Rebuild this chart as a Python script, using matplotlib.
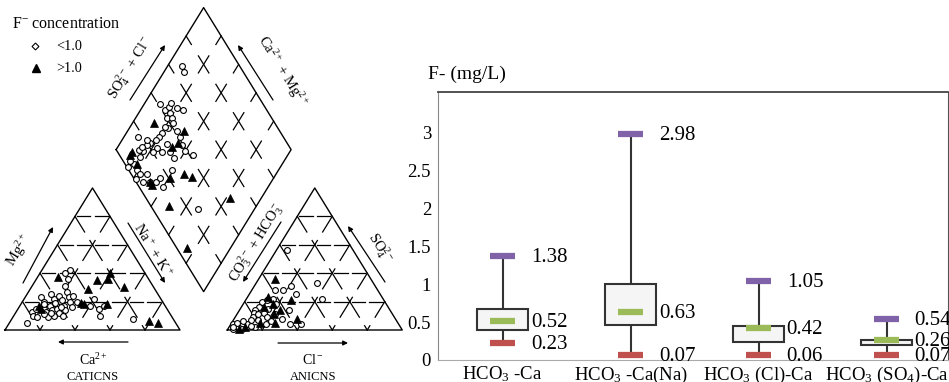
import numpy as np
import matplotlib.pyplot as plt
import matplotlib.transforms as mtransforms

plt.rcParams['font.family'] = 'Liberation Serif'
plt.rcParams['mathtext.fontset'] = 'custom'
plt.rcParams['mathtext.rm'] = 'Liberation Serif'
plt.rcParams['mathtext.it'] = 'Liberation Serif:italic'

# ---- box plot data (F- mg/L) ----
groups = ['HCO$_3$ -Ca', 'HCO$_3$ -Ca(Na)', 'HCO$_3$ (Cl)-Ca', 'HCO$_3$ (SO$_4$)-Ca']
f_max = [1.38, 2.98, 1.05, 0.54]
f_mean = [0.52, 0.63, 0.42, 0.26]
f_min = [0.23, 0.07, 0.06, 0.07]
q1 = [0.40, 0.46, 0.24, 0.20]
q3 = [0.67, 1.01, 0.45, 0.27]
yticks = [0, 0.5, 1, 1.5, 2, 2.5, 3]
ytick_labels = ['0', '0.5', '1', '1.5', '2', '2.5', '3']

# ---- piper data, percent ----
# cation triangle (Mg, Na+K)
cat_low = [(5,10),(13,9),(15,10),(10,11),(9,14),(23,9),(20,12),(15,15),(13,17),(17,17),
           (14,20),(22,17),(19,19),(15,22),(12,25),(24,19),(21,22),(17,25),(14,27),(27,22),
           (23,25),(20,27),(16,30),(24,27),(31,19),(36,18),(42,16),(40,14),(10,28),(10,23),
           (9,20),(20,31),(17,40),(22,40),(15,46),(10,49),(8,69),(17,48),(18,13),(11,17),
           (25,14),(16,24),(12,20)]
cat_high = [(37,12),(29,33),(35,35),(36,41),(40,40),(30,53),(19,34),(18,36),(18,49),
            (15,13),(17,11),(6,79),(5,85)]
# anion triangle (SO4, Cl)
an_low = [(28,13),(28,18),(31,21),(25,27),(22,15),(21,12),(20,10),(16,10),(14,9),(12,9),
          (9,10),(7,10),(11,12),(12,15),(15,16),(18,19),(11,22),(8,27),(14,28),(4,40),
          (4,34),(4,20),(2,15),(4,9),(2,5),(1,3),(4,1),(5,3),(1,8),(22,43),(33,35),(56,6),
          (3,12),(6,6),(2,2),(7,14),(9,18),(6,22)]
an_high = [(36,9),(23,12),(21,26),(16,13),(18,17),(11,21),(14,23),(8,36),(5,16),(5,25),
           (1,6),(2,9)]
# diamond (Na+K, SO4+Cl)
dia_low = [(8,67),(11,66),(24,52),(9,41),(14,42),(15,45),(15,48),(20,49),(18,44),(18,40),
           (21,43),(23,42),(22,37),(20,36),(20,32),(20,29),(19,26),(17,22),(16,19),(16,15),
           (16,11),(13,13),(23,24),(27,25),(22,20),(14,21),(14,16),(28,41),(32,41),(36,39),
           (40,39),(46,42),(32,30),(36,30),(39,25),(40,14),(26,9),(19,5),(15,5),(12,4),
           (13,1),(22,1),(27,4),(31,8),(34,11),(35,15),(22,5),(8,17),(27,31),(68,26)]
dia_high = [(12,31),(32,45),(33,38),(31,33),(10,8),(10,6),(47,30),(53,34),(41,21),(31,8),
            (33,8),(17,7),(50,10),(82,48),(75,6)]

h = np.sqrt(3) / 2
g = 0.27


def cat_xy(mg, nak):
    m, n = mg / 100, nak / 100
    return n + m / 2, m * h


def an_xy(so4, cl):
    s, c = so4 / 100, cl / 100
    return 1 + g + c + s / 2, s * h


def dia_xy(nak, sc):
    n, s = nak / 100, sc / 100
    return 1 + g / 2 + 0.5 * (s - (1 - n)), g * h + h * (s + 1 - n)


def pix(px, py):
    # figure pixel -> piper data units
    return (px - 5) / 175, (330 - py) / 164


def broken(ax, p0, p1, n, pieces, center=False):
    p0, p1 = np.array(p0), np.array(p1)
    ks = range(n + 1) if center else range(n)
    for k in ks:
        for a, b in pieces:
            t0 = max((k + a) / n, 0)
            t1 = min((k + b) / n, 1)
            if t1 <= t0:
                continue
            q0 = p0 + (p1 - p0) * t0
            q1_ = p0 + (p1 - p0) * t1
            ax.plot([q0[0], q1_[0]], [q0[1], q1_[1]], color='k', lw=0.9)


def triangle(ax, x0):
    A, B, C = (x0, 0), (x0 + 1, 0), (x0 + 0.5, h)
    ax.plot([A[0], B[0], C[0], A[0]], [A[1], B[1], C[1], A[1]], color='k', lw=1)
    for j in range(1, 5):
        f = j / 5
        # horizontal
        broken(ax, (x0 + f / 2, f * h), (x0 + 1 - f / 2, f * h), 5 - j,
               [(0.06, 0.44), (0.56, 0.94)])
        # parallel to left side, top end on right side
        broken(ax, (x0 + f + (1 - f) / 2, (1 - f) * h), (x0 + f, 0), 5 - j,
               [(0, 0.55), (0.85, 1.0)])
        # parallel to right side, top end on left side
        broken(ax, (x0 + (1 - f) / 2, (1 - f) * h), (x0 + 1 - f, 0), 5 - j,
               [(0, 0.55), (0.85, 1.0)])


fig = plt.figure(figsize=(9.49, 3.82), dpi=100)

# ================= Piper diagram =================
ax0 = fig.add_axes([0, 0, 417 / 949, 1])
ax0.set_xlim(-5 / 175, 412 / 175)
ax0.set_ylim((330 - 382) / 164, 330 / 164)
ax0.axis('off')

triangle(ax0, 0)
triangle(ax0, 1 + g)

dv = [dia_xy(0, 0), dia_xy(0, 100), dia_xy(100, 100), dia_xy(100, 0), dia_xy(0, 0)]
ax0.plot([p[0] for p in dv], [p[1] for p in dv], color='k', lw=1)
for j in range(1, 5):
    v = j * 20
    broken(ax0, dia_xy(0, v), dia_xy(100, v), 5, [(-0.3, 0.3)], center=True)
    broken(ax0, dia_xy(v, 0), dia_xy(v, 100), 5, [(-0.3, 0.3)], center=True)

low_style = dict(ls='none', marker='o', ms=4.2, mfc='white', mec='k', mew=0.8)
high_style = dict(ls='none', marker='^', ms=5.5, mfc='k', mec='k', mew=0.5)
for pts, fn, st in [(cat_low, cat_xy, low_style), (an_low, an_xy, low_style),
                    (dia_low, dia_xy, low_style), (cat_high, cat_xy, high_style),
                    (an_high, an_xy, high_style), (dia_high, dia_xy, high_style)]:
    xy = np.array([fn(a, b) for a, b in pts])
    ax0.plot(xy[:, 0], xy[:, 1], **st)

# axis labels and arrows
rot = 58.4
labels = [
    ('Mg$^{2+}$', (19, 250), rot, 10.5),
    ('Na$^+$ + K$^+$', (153, 251), -rot, 10.5),
    ('Ca$^{2+}$', (93, 360), 0, 10),
    ('CATICNS', (93, 377), 0, 9),
    ('CO$_3^{2-}$ + HCO$_3^-$', (256, 243), rot, 10.5),
    ('SO$_4^{2-}$', (380, 248), -rot, 10.5),
    ('Cl$^-$', (313, 360), 0, 10),
    ('ANICNS', (313, 377), 0, 9),
    ('SO$_4^{2-}$ + Cl$^-$', (130, 67), rot, 10.5),
    ('Ca$^{2+}$ + Mg$^{2+}$', (282, 71), -rot, 10.5),
]
for txt, (px, py), r, fs in labels:
    ax0.text(*pix(px, py), txt, rotation=r, ha='center', va='center', fontsize=fs,
             rotation_mode='anchor')

arrows = [((23, 283), (53, 227)), ((128, 223), (165, 283)), ((128, 342), (58, 342)),
          ((281, 222), (243, 282)), ((385, 282), (348, 226)), ((278, 343), (348, 343)),
          ((130, 100), (165, 45)), ((273, 100), (238, 45))]
for s, e in arrows:
    ax0.annotate('', xy=pix(*e), xytext=pix(*s),
                 arrowprops=dict(arrowstyle='-|>', lw=0.9, color='k', mutation_scale=7,
                                 shrinkA=0, shrinkB=0))

# legend
ax0.text(*pix(12, 24), 'F$^{-}$ concentration', fontsize=11.5, ha='left', va='center')
ax0.plot(*pix(35, 46), ls='none', marker='D', ms=3.5, mfc='white', mec='k', mew=0.8)
ax0.plot(*pix(36, 68), ls='none', marker='^', ms=5.5, mfc='k', mec='k')
ax0.text(*pix(56, 46), '<1.0', fontsize=10.3, ha='left', va='center')
ax0.text(*pix(56, 68), '>1.0', fontsize=10.3, ha='left', va='center')

# ================= Box plot =================
ax = fig.add_axes([438 / 949, 22 / 382, 510 / 949, 268 / 382])
x = np.arange(len(groups))
ax.vlines(x, f_min, f_max, color='#333333', lw=1.5, zorder=1)
ax.bar(x, np.array(q3) - np.array(q1), bottom=q1, width=0.4, color='#f5f5f5',
       edgecolor='#333333', linewidth=1.5, zorder=2)
ax.hlines(f_max, x - 0.1, x + 0.1, color='#7f62a8', lw=4.5, zorder=3)
ax.hlines(f_mean, x - 0.1, x + 0.1, color='#9bbb59', lw=4.5, zorder=3)
ax.hlines(f_min, x - 0.1, x + 0.1, color='#c0504d', lw=4.5, zorder=3)
for i in range(len(groups)):
    for val in (f_max[i], f_mean[i], f_min[i]):
        ax.text(x[i] + 0.22, val - 0.02, f'{val:.2f}', fontsize=15, ha='left', va='center',
                clip_on=False)

ax.set_xlim(-0.505, 3.48)
ax.set_ylim(0, 3.54)
ax.set_xticks(x)
ax.set_xticklabels([])
trans = mtransforms.blended_transform_factory(ax.transData, ax.transAxes)
for i, lab in enumerate(groups):
    ax.text(x[i], -0.073, lab, transform=trans, fontsize=13.5, ha='center', va='baseline')
ax.set_yticks(yticks)
ax.set_yticklabels(ytick_labels)
ax.tick_params(length=0, labelsize=13.5)
ax.tick_params(axis='y', pad=5)
ax.spines['top'].set_color('#444444')
ax.spines['top'].set_linewidth(1.3)
ax.spines['left'].set_color('#888888')
ax.spines['right'].set_color('#555555')
ax.spines['bottom'].set_color('#aaaaaa')
ax.text(-0.02, 1.065, 'F- (mg/L)', transform=ax.transAxes, fontsize=14, ha='left',
        va='center')

fig.savefig('out.png', dpi=100)
